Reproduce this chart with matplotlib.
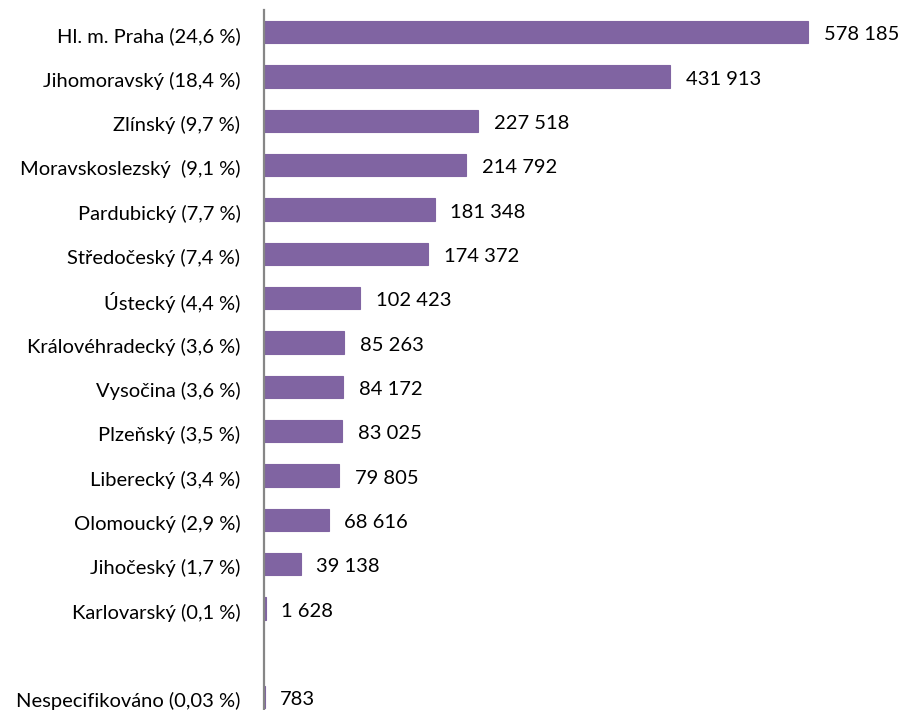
import matplotlib
matplotlib.use("Agg")
import matplotlib.pyplot as plt

categories = ["Hl. m. Praha (24,6 %)", "Jihomoravský (18,4 %)", "Zlínský (9,7 %)",
              "Moravskoslezský  (9,1 %)", "Pardubický (7,7 %)", "Středočeský (7,4 %)",
              "Ústecký (4,4 %)", "Královéhradecký (3,6 %)", "Vysočina (3,6 %)",
              "Plzeňský (3,5 %)", "Liberecký (3,4 %)", "Olomoucký (2,9 %)",
              "Jihočeský (1,7 %)", "Karlovarský (0,1 %)", "", "Nespecifikováno (0,03 %)"]
values = [578185, 431913, 227518, 214792, 181348, 174372, 102423, 85263,
          84172, 83025, 79805, 68616, 39138, 1628, None, 783]
value_labels = ["578 185", "431 913", "227 518", "214 792", "181 348", "174 372",
                "102 423", "85 263", "84 172", "83 025", "79 805", "68 616",
                "39 138", "1 628", "", "783"]

plt.rcParams['font.family'] = ['Lato', 'DejaVu Sans']
color = "#8064A2"
fs = 14.5

fig = plt.figure(figsize=(9.02, 7.10), dpi=100)
ax = fig.add_axes([264/902, 0.0, 1 - 264/902, 1 - 10/710])

for i, v in enumerate(values):
    if v is None:
        continue
    ax.barh(i, v, height=0.5, color=color, edgecolor=color, linewidth=0.8)
    ax.text(v + 16500, i + 0.06, value_labels[i], va="center", ha="left", fontsize=fs)

ax.set_yticks([i + 0.06 for i in range(len(categories))])
ax.set_yticklabels(categories, fontsize=fs)
ax.tick_params(axis="y", length=0, pad=17)
ax.set_xticks([])
ax.set_xlim(0, 678000)
ax.set_ylim(15.29, -0.5)
for s in ["top", "right", "bottom"]:
    ax.spines[s].set_visible(False)
ax.spines["left"].set_color("#868686")
ax.spines["left"].set_linewidth(1.6)

fig.savefig("out.png", dpi=100)
